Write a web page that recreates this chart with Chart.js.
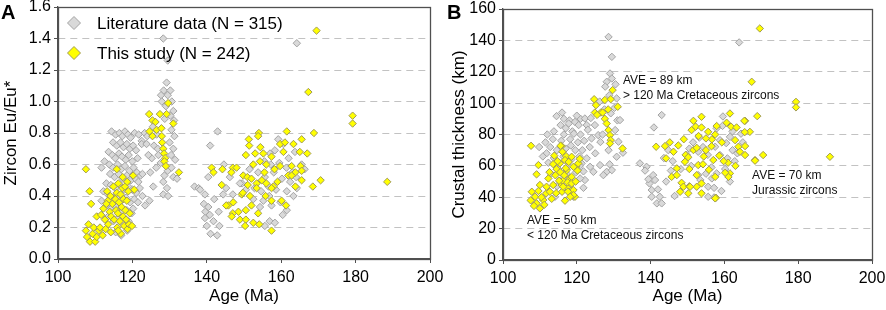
<!DOCTYPE html>
<html><head><meta charset="utf-8">
<script src="https://cdn.jsdelivr.net/npm/chart.js@4.4.1/dist/chart.umd.min.js"></script>
<style>
html,body{margin:0;padding:0;background:#fff;}
#wrap{position:relative;width:886px;height:310px;overflow:hidden;}
canvas{position:absolute;top:0;}
</style></head><body>
<div id="wrap">
<canvas id="cA" width="443" height="310" style="left:0"></canvas>
<canvas id="cB" width="443" height="310" style="left:443px"></canvas>
</div>
<script>
const F = "'Liberation Sans', Arial, sans-serif";
const seriesNames = ['Literature data (N = 315)', 'This study (N = 242)'];
const xTicks = [100,120,140,160,180,200];
const yTicksA = [0,0.2,0.4,0.6,0.8,1.0,1.2,1.4,1.6];
const yTicksB = [0,20,40,60,80,100,120,140,160];

// Panel A: Zircon Eu/Eu* vs Age (Ma)  [age, Eu/Eu*]
const litA = [
[114.4,0.81],[115.5,0.79],[116.5,0.80],[117.3,0.78],[118,0.81],[118.8,0.79],[119.5,0.77],[120.6,0.80],[121.7,0.79],[122.5,0.75],[123.3,0.80],
[114.8,0.74],[115.8,0.72],[116.8,0.74],[117.6,0.71],[118.5,0.73],[119.3,0.70],[120.2,0.72],[121,0.69],[122.5,0.73],
[113.6,0.68],[114.6,0.66],[115.4,0.64],[116.4,0.67],[117.2,0.65],[118.2,0.63],[119,0.66],[120,0.62],[121.4,0.64],
[112.5,0.62],[113.8,0.60],[114.8,0.58],[116,0.60],[117,0.57],[118,0.59],[119.2,0.56],[120.3,0.58],[121.2,0.55],[122.2,0.53],
[111.7,0.58],[114,0.54],[115.2,0.52],[116.3,0.54],[117.4,0.51],[118.5,0.53],[119.6,0.50],[120.8,0.51],[121.6,0.49],[122.7,0.54],
[113,0.48],[114.2,0.47],[115.5,0.45],[116.6,0.47],[117.8,0.44],[118.9,0.46],[120,0.44],[121,0.42],[122,0.45],
[112.2,0.43],[113.4,0.41],[114.8,0.39],[116,0.40],[117.1,0.37],[118.3,0.39],[119.4,0.36],[120.5,0.38],[121.5,0.36],
[111.7,0.37],[113,0.34],[114.3,0.32],[115.6,0.33],[117,0.30],[118.5,0.31],[119.8,0.29],[120.2,0.32],
[113.5,0.27],[114.9,0.24],[116.2,0.26],[117.6,0.22],[119,0.24],[115.5,0.17],[117,0.15],[118.6,0.18],
[128.3,1.40],[129.5,1.26],[129.2,1.12],[128.4,1.07],[127.7,1.04],[130.2,1.07],[129.5,1.04],[127.9,1.00],[130.6,1.00],[129,0.97],[131,0.94],[130.2,0.91],[131.2,0.88],[128.7,0.89],
[125.5,0.84],[126.5,0.79],[130.5,0.82],[131.3,0.78],[124,0.78],[123.8,0.73],[125.8,0.72],[126.8,0.70],[127,0.66],[125.2,0.64],[124.3,0.66],[130,0.74],[131,0.70],[130.4,0.66],[131.5,0.63],
[129.5,0.56],[130.5,0.58],[131,0.52],[132,0.51],[128.3,0.49],[128.6,0.53],[129.3,0.45],[125.6,0.46],[124.6,0.37],[123.4,0.34],[122.7,0.40],[128.3,0.41],[129.6,0.40],[126.4,0.58],[127.6,0.61],[124.8,0.55],
[142.9,0.81],[140.9,0.72],[136.7,0.46],[137.8,0.45],[138.2,0.44],[139.5,0.41],[140.4,0.52],[139.2,0.35],[140.4,0.33],[139.6,0.30],[140.8,0.28],[139.5,0.26],[140,0.21],[141,0.16],[142.8,0.15],[143.4,0.21],[144.4,0.41],[147,0.41],[142,0.38],[143.2,0.30],[141.8,0.24],[145.2,0.45],[146.2,0.52],[144.6,0.60],
[164.2,1.37],[157,0.67],[158.3,0.69],[160.6,0.73],[162,0.64],[155.5,0.62],[157.2,0.60],[159.5,0.61],[161.4,0.58],[163,0.55],[164,0.52],[158,0.55],[160.2,0.51],[162.4,0.49],[155.6,0.52],[153.8,0.55],[151.5,0.57],[149.5,0.48],[148.9,0.48],[152.8,0.45],[154.6,0.43],[156.6,0.46],[158.6,0.44],[161.5,0.43],[164.2,0.45],[163.3,0.40],[155.2,0.37],[156.8,0.40],[157.4,0.34],[159.8,0.36],[161.5,0.31],[160.4,0.28],[154.3,0.33],[156.9,0.24],[158.3,0.23],[155.6,0.21],[152.5,0.38],[150.5,0.44],[165.5,0.60],[166.3,0.57],[163.7,0.68],[159.2,0.76]
];
const studyA = [
[107.5,0.57],[108.5,0.43],[108.9,0.35],[107.5,0.18],[107.8,0.14],[108.2,0.22],[108.6,0.11],[109.3,0.16],[109.6,0.20],[110,0.11],[110.4,0.14],[110.4,0.27],[111,0.18],[111.3,0.20],[112,0.15],[112.2,0.32],[112.6,0.25],[113.2,0.43],[113.4,0.37],[113.5,0.22],[113.9,0.30],[114.1,0.40],[114.3,0.27],[114.6,0.35],[114.9,0.46],[115.1,0.25],[115.8,0.57],[115.4,0.38],[115.6,0.31],[115.8,0.42],[115.9,0.20],[116.1,0.29],[116.2,0.48],[116.4,0.36],[116.6,0.24],[116.8,0.41],[116.9,0.16],[117.1,0.33],[117.3,0.45],[117.5,0.27],[117.6,0.38],[117.8,0.21],[118,0.46],[118.1,0.31],[118.3,0.25],[118.5,0.37],[118.7,0.19],[118.9,0.43],[119.1,0.22],[119.3,0.29],[120.2,0.53],[120.5,0.44],[119.9,0.21],[114.2,0.17],[116.2,0.18],[113,0.35],[117.4,0.52],[118.6,0.49],[112.8,0.19],[111.6,0.28],
[129.6,0.99],[127.4,0.92],[129.2,0.92],[124.5,0.92],[125.4,0.88],[126.2,0.87],[131,0.86],[124.6,0.81],[126.5,0.82],[127.8,0.83],[125.4,0.78],[127.9,0.78],[128,0.74],[128.3,0.70],[128.5,0.67],[128.8,0.64],[128.6,0.62],[129,0.59],[132.5,0.55],
[169.5,1.45],[167.3,1.06],[179.2,0.91],[179.2,0.86],[188.5,0.49],[168.8,0.80],[161.5,0.81],[165.5,0.76],[154,0.80],[153.8,0.78],[151.3,0.76],[151.4,0.72],[154.4,0.71],[159.7,0.73],[161,0.74],[163.3,0.73],[165,0.68],[167,0.67],[150.5,0.66],[153,0.67],[155.2,0.67],[157.4,0.65],[160.6,0.68],[152.5,0.60],[154.3,0.62],[156,0.60],[159.7,0.59],[162.8,0.59],[165.2,0.59],[163.8,0.55],[165.5,0.56],
[141.3,0.58],[141.8,0.55],[144.2,0.57],[147,0.58],[148,0.58],[146.6,0.55],[149.8,0.53],[150.9,0.52],[152,0.51],[153.4,0.48],[154.8,0.50],[156,0.48],[157.9,0.46],[159,0.49],[161.9,0.53],[163.8,0.46],[168.5,0.46],[170.6,0.50],[165.5,0.50],[162.8,0.53],[144,0.47],[149.4,0.41],[151.6,0.40],[153.4,0.45],[157.4,0.45],[160.1,0.37],[161.3,0.34],[147.1,0.36],[145.8,0.34],[147,0.29],[148.5,0.30],[152,0.34],[150.5,0.31],[153.8,0.29],[148.9,0.25],[150.5,0.25],[152.5,0.23],[150.3,0.21],[154.1,0.22],[157.4,0.18],[157.4,0.37],[145.2,0.34],[149.7,0.42],[155.5,0.55],[158.2,0.57],[151,0.47],[155.8,0.40],[146.7,0.27]
];

// Panel B: Crustal thickness (km) vs Age (Ma)  [age, km]
const litB = [
[114.5,91.7],[116.5,90],[118,89],[119.5,88],[121,90],[122.2,90.2],[115.6,86],[117.8,87],[120.5,86],[122.7,86],[113.8,82],[116.5,80],[118.8,82],[121,80],[123,83],[113.5,77],[115.8,76],[118.2,77],[120.3,75],[122,76],[112.8,72],[114.6,70],[117,71],[119.6,70],[121.5,70],[123.5,72],[111.8,68],[113.8,65],[116.4,66],[118.5,64],[120.7,66],[122.7,64.8],[121.3,61.6],[123.6,59.4],[124.5,56.2],[122.2,51],[120.9,52],[119.1,40.3],[114.1,40.3],[112.3,62],[115,58],[117.7,60],[119.8,56],[113,55],[116.2,52],[118.3,48],[114.6,47],[121.8,46],[110.8,66],[109.8,72],[111.5,75],
[112,80],[117,84],[119.2,80.5],[120,92],[116,94],[123.8,90.5],[118.4,73],[120.8,60],[117.2,55],[121.8,56.5],
[128.6,142.2],[129.5,129.5],[129,118.9],[129.5,115.7],[128.1,113.6],[127.7,110.5],[130.5,112],[128.8,105],[130.8,103],[126.2,101],[127.5,96],[130.4,82.8],[131,89],[131.7,89.2],[129.2,93.5],[130.2,97],[124.9,86],[125.8,79.6],[124,77.5],[126.4,75.2],[127,80],[131.3,75.4],[128.6,70],[130.8,65.8],[128.9,61],[128.1,56.2],[129.5,57.3],[127.2,54.1],[126.3,60.5],[125,68],[132.5,68.4],
[143,92.4],[140.9,84.5],[137.1,61.6],[138.9,59.4],[138.5,57],[139.7,48.8],[140.3,44.6],[140.7,54.1],[141.2,51],[139.4,51.5],[141.7,36.1],[142.5,40.3],[143,36.1],[140.3,40.3],[142,45],[144.2,50],[145.5,57],[143.6,65],[146,63],[144.8,70],[146.5,40.8],
[164,138.7],[157.9,83.9],[159.5,85.5],[158.8,76.4],[160.5,74.5],[161.5,78.5],[157.5,72.2],[154.2,72],[152.9,69],[155.5,67],[158.8,66.9],[160.8,64.8],[162.8,63],[152.9,54.1],[155,55],[157.9,55.2],[156.6,52],[153.5,51],[155.6,46.7],[157.2,46],[157.2,39.9],[155.6,40.3],[150.5,71],[151.5,75],[153.2,78],[149.8,67],[163.5,68],[165,75],[164.5,80.5],[162.2,70],[160.2,58],[161.5,50],[159.2,44],[151,60],[148.2,58],[156.5,59],[159.6,91.5],[162.2,82]
];
const studyB = [
[107.6,72.8],[109.1,54.6],[109.6,60.5],[110,47.8],[107.8,43.5],[108.7,40.3],[107.5,38],[109.1,36.1],[110,32.9],[110.9,38.2],[111.7,42.5],[112.3,52],[113.6,47.8],[112.6,56],[115.4,61.6],[114.5,58],[115.9,47.8],[116,43.5],[116.8,37.8],[117.5,46],[118.4,44],[119.5,40.3],[119.1,44.6],[117.3,57.3],[118.1,52],[118.6,53],[119.8,59.4],[120.4,61.6],[117.1,66.2],[115.9,72.6],[115.6,72.8],[118.6,65.8],[113.6,61.1],[114.8,63],[116.8,63.7],[114.2,54],[115.5,56],[117,58.5],[119.1,59.4],[120.2,57],[116.2,50.5],[117.5,49.5],[118.6,48.8],[116.3,46.7],[117.6,43.6],[119.1,41.4],[111.8,46.7],[112.7,43.5],[110.4,40],[109.6,44],[113.2,39],[114.4,42.6],[115.2,50.5],[116.6,54],[118.2,40.3],[111.2,35.2],[108.4,34.5],[119.7,50],[113.9,66.5],[116.1,69],[117.8,62.5],[120.8,64.5],
[129.7,108.3],[124.7,102.5],[125.2,98.7],[124.9,94],[126.5,94],[127,94],[127.6,102],[129.2,102.5],[131.1,97.7],[127.6,90],[128.1,87],[128.6,82.8],[129,79.6],[129.2,76.4],[129,74.3],[132.4,71.1],[125.5,92.5],[128.5,96],
[169.6,147.6],[167.4,113.6],[179.4,100.8],[179.4,97.3],[168.9,91.7],[161.5,93.4],[165.6,88.7],[153.8,91.3],[151.6,88.7],[152.2,85],[151.1,82.8],[155.6,81.7],[153.8,84.5],[156.6,76.9],[157.9,85.4],[160.6,87.5],[161.8,85],[163.3,84.5],[166.9,81.7],[165.5,81.5],[165.4,88.7],[162.9,76.4],[163.8,72.2],[165.6,72.6],[168.3,63.7],[170.5,66.9],[168.3,63.3],[165.6,66.9],[164.2,69],[161.5,55.2],[161,62],[188.6,65.8],
[141.5,72.2],[143.9,72.6],[145.2,75],[147.5,73],[146.2,69],[149.5,67],[151.6,70.1],[150.2,65.5],[152.5,71.5],[155,70],[156.5,72.5],[149.3,62.6],[152.9,60.5],[154.2,61],[157,63.7],[158.6,66.5],[159.8,63],[145.7,53],[147.1,58.4],[150.5,58],[152.5,54.1],[148.4,49.2],[148.9,46.7],[150.5,47],[152.5,46.7],[153.8,48.8],[153.8,42.5],[148,43.5],[157.5,53],[157.7,39.7],[161.1,53],[160.2,55.6],[157.5,39.3],[150.2,42.5],[150.7,46.7],[147.1,54.1],[144.2,64.8],[155,77.5],[157.5,80],[159.3,75],[153,79],[149,77],[163,60],[155.8,57.5],[154.4,66]
];

// annotation notes for panel B: [age, km, line1, line2]
const notesB = [
  [132.5, 114, 'AVE = 89 km', '> 120 Ma Cretaceous zircons'],
  [106.5, 24.8, 'AVE = 50 km', '< 120 Ma Cretaceous zircons'],
  [167.5, 53.5, 'AVE = 70 km', 'Jurassic zircons']
];

const GRAY_FILL = '#d9d9d9', GRAY_LINE = '#a3a3a3';
const YEL_FILL = '#ffff00', YEL_LINE = '#a09a55';
const AXIS = '#505050';

function diamond(ctx, x, y, r, fill, stroke) {
  ctx.beginPath();
  ctx.moveTo(x - r, y); ctx.lineTo(x, y - r); ctx.lineTo(x + r, y); ctx.lineTo(x, y + r); ctx.closePath();
  ctx.fillStyle = fill; ctx.fill();
  ctx.lineWidth = 1; ctx.strokeStyle = stroke; ctx.stroke();
}

const deco = {
  id: 'deco',
  afterDraw(chart, args, o) {
    const {ctx, chartArea: a} = chart;
    ctx.save();
    ctx.strokeStyle = AXIS; ctx.lineWidth = 1.3;
    ctx.strokeRect(Math.round(a.left) + 0.5, Math.round(a.top) + 0.5, Math.round(a.right - a.left), Math.round(a.bottom - a.top));
    ctx.fillStyle = '#000';
    ctx.font = 'bold 20px ' + F; ctx.textAlign = 'left'; ctx.textBaseline = 'top';
    ctx.fillText(o.letter, o.lx, o.ly);
    ctx.font = '17px ' + F; ctx.textAlign = 'center'; ctx.textBaseline = 'middle';
    ctx.fillText('Age (Ma)', (a.left + a.right) / 2, o.xty);
    ctx.save(); ctx.translate(o.ytx, (a.top + a.bottom) / 2); ctx.rotate(-Math.PI / 2);
    ctx.fillText(o.ytitle, 0, 0); ctx.restore();
    if (o.notes) {
      const xs = chart.scales.x, ys = chart.scales.y;
      ctx.font = '12px ' + F; ctx.textAlign = 'left'; ctx.textBaseline = 'middle'; ctx.fillStyle = '#111';
      o.notes.forEach(n => {
        const px = xs.getPixelForValue(n[0]), py = ys.getPixelForValue(n[1]);
        ctx.fillText(n[2], px, py);
        ctx.fillText(n[3], px, py + 15);
      });
    }
    if (o.legend) {
      const ds = chart.data.datasets;
      ctx.font = '17px ' + F; ctx.textAlign = 'left'; ctx.textBaseline = 'middle'; ctx.fillStyle = '#000';
      [0, 1].forEach(i => {
        const y = o.legend.y + i * o.legend.dy;
        diamond(ctx, o.legend.x, y, 6.5, ds[i].pointBackgroundColor, ds[i].pointBorderColor);
        ctx.fillStyle = '#000';
        ctx.fillText(ds[i].label, o.legend.x + 23, y + 1);
      });
    }
    ctx.restore();
  }
};

function makeChart(id, cfg) {
  const toPts = arr => arr.map(p => ({x: p[0], y: p[1]}));
  return new Chart(document.getElementById(id), {
    type: 'scatter',
    data: {
      datasets: [
        {label: seriesNames[0], data: toPts(cfg.lit), pointStyle: 'rectRot', pointRadius: 3.7,
         pointBackgroundColor: GRAY_FILL, pointBorderColor: GRAY_LINE, pointBorderWidth: 1, order: 2},
        {label: seriesNames[1], data: toPts(cfg.study), pointStyle: 'rectRot', pointRadius: 3.7,
         pointBackgroundColor: YEL_FILL, pointBorderColor: YEL_LINE, pointBorderWidth: 1, order: 1}
      ]
    },
    options: {
      responsive: false, animation: false, devicePixelRatio: 1,
      layout: {padding: cfg.pad},
      events: [],
      plugins: {legend: {display: false}, tooltip: {enabled: false}, deco: cfg.deco},
      scales: {
        x: {
          type: 'linear', min: 100, max: 200,
          afterBuildTicks: s => { s.ticks = xTicks.map(v => ({value: v})); },
          afterFit: s => { s.height = cfg.xh; s.paddingLeft = 0; s.paddingRight = 0; },
          grid: {drawOnChartArea: false, drawTicks: true, tickLength: 4, color: AXIS, tickColor: AXIS},
          border: {color: AXIS, width: 1.3},
          ticks: {font: {size: 16, family: F}, color: '#000', padding: 5, maxRotation: 0, autoSkip: false}
        },
        y: {
          type: 'linear', min: cfg.yt[0], max: cfg.yt[cfg.yt.length - 1],
          afterBuildTicks: s => { s.ticks = cfg.yt.map(v => ({value: v})); },
          afterFit: s => { s.width = cfg.yw; s.paddingTop = 0; s.paddingBottom = 0; },
          grid: {
            color: c => (c.tick && (c.index === 0 || c.index === cfg.yt.length - 1)) ? 'rgba(0,0,0,0)' : '#c2c2c2',
            tickColor: AXIS, tickLength: 4, lineWidth: 1
          },
          border: {color: AXIS, width: 1.3, dash: [7, 5]},
          ticks: {font: {size: 16, family: F}, color: '#000', padding: 3, autoSkip: false, callback: v => cfg.fmt(v)}
        }
      }
    },
    plugins: [deco]
  });
}

makeChart('cA', {
  lit: litA, study: studyA, yt: yTicksA, fmt: v => v.toFixed(1),
  pad: {left: 0, right: 13, top: 7, bottom: 0}, yw: 58, xh: 51,
  deco: {letter: 'A', lx: 1, ly: 3, xty: 296, ytx: 11, ytitle: 'Zircon Eu/Eu*',
         legend: {x: 74, y: 23, dy: 30}}
});
makeChart('cB', {
  lit: litB, study: studyB, yt: yTicksB, fmt: v => String(v),
  pad: {left: 0, right: 14, top: 9, bottom: 0}, yw: 60, xh: 50,
  deco: {letter: 'B', lx: 4, ly: 3, xty: 296, ytx: 16, ytitle: 'Crustal thickness (km)',
         notes: notesB}
});
</script>
</body></html>
